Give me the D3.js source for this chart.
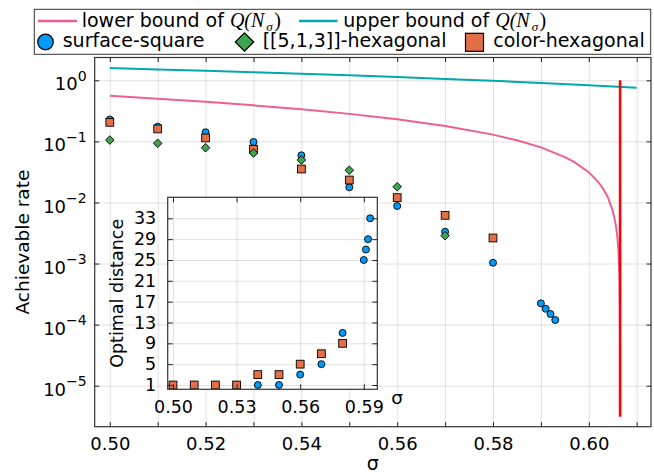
<!DOCTYPE html>
<html><head><meta charset="utf-8">
<script src="https://cdn.jsdelivr.net/npm/d3@7"></script>
<style>
body{margin:0;background:#fff}
svg{display:block}
text{font-family:"DejaVu Sans",sans-serif;fill:#000}
</style>
</head><body>
<svg id="chart" width="654" height="476"></svg>
<script>
// ---------------- data ----------------
const surfaceSigma = [0.50,0.51,0.52,0.53,0.54,0.55,0.56,0.57,0.58,0.590,0.591,0.592,0.593];
const surfaceRate  = [0.228,0.174,0.141,0.0977,0.0592,0.0177,0.00875,0.00332,0.00103,2.23e-4,1.82e-4,1.49e-4,1.19e-4];
const hexSigma = [0.50,0.51,0.52,0.53,0.54,0.55,0.56,0.57];
const hexRate  = [0.105,0.093,0.0788,0.0645,0.0496,0.0337,0.0181,0.00286];
const colorSigma = [0.50,0.51,0.52,0.53,0.54,0.55,0.56,0.57,0.58];
const colorRate  = [0.205,0.160,0.114,0.0742,0.0353,0.0233,0.0120,0.00616,0.00262];

const lowerSigma = [0.50,0.51,0.52,0.53,0.54,0.55,0.56,0.57,0.58,0.585,0.59,0.595,0.597,0.60,0.602,0.603,0.604,0.605,0.6055,0.6058,0.606,0.6062,0.6064,0.6065,0.60651,0.60652,0.606525,0.606529,0.60653];
const lowerRate  = [0.557,0.500,0.444,0.389,0.335,0.282,0.230,0.179,0.129,0.104,0.0797,0.0554,0.0457,0.0312,0.0216,0.0168,0.0121,0.0073,0.0049,0.0035,0.0025,0.00157,0.00062,0.000146,0.0000985,0.000051,0.000027,0.0000081,0.0000033];
const upperSigma = [0.50,0.51,0.52,0.53,0.54,0.55,0.56,0.57,0.58,0.59,0.60,0.61];
const upperRate  = [1.585,1.508,1.432,1.356,1.281,1.205,1.130,1.055,0.980,0.905,0.830,0.755];
const thresholdSigma = [0.60653,0.60653];
const thresholdRate  = [1.0,3.1e-6];

const xTickValues = [0.50,0.51,0.52,0.53,0.54,0.55,0.56,0.57,0.58,0.59,0.60,0.61];
const xTickLabels = ["0.50","0.52","0.54","0.56","0.58","0.60"];
const yTickValues = [1,1e-1,1e-2,1e-3,1e-4,1e-5];
const yTickExponents = ["0","\u22121","\u22122","\u22123","\u22124","\u22125"];

// inset data
const insetSurfaceSigma = [0.50,0.51,0.52,0.53,0.54,0.55,0.56,0.57,0.58,0.590,0.591,0.592,0.593];
const insetSurfaceDist  = [1,1,1,1,1,1,3,5,11,25,27,29,33];
const insetColorSigma = [0.50,0.51,0.52,0.53,0.54,0.55,0.56,0.57,0.58];
const insetColorDist  = [1,1,1,1,3,3,5,7,9];
const insetXTicks = [0.50,0.53,0.56,0.59];
const insetYTicks = [1,5,9,13,17,21,25,29,33];

// ---------------- style ----------------
const C = {blue:"#009AFA", orange:"#E36F47", green:"#3EA44E", teal:"#00A9AD", pink:"#ED5E93", red:"#FF0000"};

const svg = d3.select("#chart");
const P = {l:94.7, r:651, t:57.5, b:426.7};

const x = d3.scaleLinear().domain([0.496848, 0.612985]).range([P.l, P.r]);
const y = d3.scaleLog().domain([2.132e-6, 2.362]).range([P.b, P.t]);

svg.append("defs").append("clipPath").attr("id","clipMain")
  .append("rect").attr("x",P.l).attr("y",P.t).attr("width",P.r-P.l).attr("height",P.b-P.t);

// grid
const gridStyle = g => { g.select(".domain").remove(); g.selectAll("line").attr("stroke","#000").attr("stroke-opacity",0.12).attr("stroke-width",1); g.selectAll("text").remove(); };
svg.append("g").attr("transform",`translate(0,${P.b})`)
  .call(d3.axisBottom(x).tickValues(xTickValues).tickSize(-(P.b-P.t)).tickFormat(()=>"")).call(gridStyle);
svg.append("g").attr("transform",`translate(${P.l},0)`)
  .call(d3.axisLeft(y).tickValues(yTickValues).tickSize(-(P.r-P.l)).tickFormat(()=>"")).call(gridStyle);

// lines
const plot = svg.append("g").attr("clip-path","url(#clipMain)");
const line = d3.line().x(d=>x(d[0])).y(d=>y(d[1]));
plot.append("path").datum(d3.zip(lowerSigma,lowerRate)).attr("d",line)
  .attr("fill","none").attr("stroke",C.pink).attr("stroke-width",2);
plot.append("path").datum(d3.zip(upperSigma,upperRate)).attr("d",line)
  .attr("fill","none").attr("stroke",C.teal).attr("stroke-width",2);
plot.append("path").datum(d3.zip(thresholdSigma,thresholdRate)).attr("d",line)
  .attr("fill","none").attr("stroke",C.red).attr("stroke-width",2.6);

// markers
function circles(g, xs, ys, sx, sy, r){
  g.selectAll(null).data(d3.zip(xs,ys)).enter().append("circle")
    .attr("cx",d=>sx(d[0])).attr("cy",d=>sy(d[1])).attr("r",r)
    .attr("fill",C.blue).attr("stroke","#000").attr("stroke-width",0.9);
}
function squares(g, xs, ys, sx, sy, s){
  g.selectAll(null).data(d3.zip(xs,ys)).enter().append("rect")
    .attr("x",d=>sx(d[0])-s/2).attr("y",d=>sy(d[1])-s/2).attr("width",s).attr("height",s)
    .attr("fill",C.orange).attr("stroke","#000").attr("stroke-width",0.9);
}
function diamonds(g, xs, ys, sx, sy, h){
  g.selectAll(null).data(d3.zip(xs,ys)).enter().append("path")
    .attr("d",d=>{const cx=sx(d[0]),cy=sy(d[1]);return `M${cx},${cy-h}L${cx+h},${cy}L${cx},${cy+h}L${cx-h},${cy}Z`;})
    .attr("fill",C.green).attr("stroke","#000").attr("stroke-width",0.9);
}
circles(plot, surfaceSigma, surfaceRate, x, y, 3.5);
squares(plot, colorSigma, colorRate, x, y, 7.8);
diamonds(plot, hexSigma, hexRate, x, y, 4.3);

// frame & ticks
const tickStyle = g => { g.select(".domain").remove(); g.selectAll(".tick line").attr("stroke","#222").attr("stroke-width",1); };
svg.append("rect").attr("x",P.l).attr("y",P.t).attr("width",P.r-P.l).attr("height",P.b-P.t)
  .attr("fill","none").attr("stroke","#333").attr("stroke-width",1.2);

const xb = svg.append("g").attr("transform",`translate(0,${P.b})`)
  .call(d3.axisBottom(x).tickValues(xTickValues).tickSizeInner(-4.5).tickSizeOuter(0).tickPadding(10.5)
    .tickFormat(d => xTickLabels.includes(d.toFixed(2)) ? d.toFixed(2) : ""))
  .call(tickStyle);
xb.selectAll("text").attr("font-size",18).attr("font-family","DejaVu Sans").attr("fill","#000");
svg.append("g").attr("transform",`translate(0,${P.t})`)
  .call(d3.axisTop(x).tickValues(xTickValues).tickSizeInner(-4.5).tickSizeOuter(0).tickFormat(()=>"")).call(tickStyle);
const yl = svg.append("g").attr("transform",`translate(${P.l},0)`)
  .call(d3.axisLeft(y).tickValues(yTickValues).tickSizeInner(-4.5).tickSizeOuter(0).tickFormat(()=>"")).call(tickStyle);
yl.selectAll(".tick").each(function(d,i){
  const g = d3.select(this); g.select("text").remove();
  const t = g.append("text").attr("x",-8).attr("y",9.6).attr("text-anchor","end")
    .attr("font-size",18).attr("font-family","DejaVu Sans").attr("fill","#000");
  t.append("tspan").text("10");
  t.append("tspan").attr("dy",-9.8).attr("font-size",14).text(yTickExponents[i]);
});
svg.append("g").attr("transform",`translate(${P.r},0)`)
  .call(d3.axisRight(y).tickValues(yTickValues).tickSizeInner(-4.5).tickSizeOuter(0).tickFormat(()=>"")).call(tickStyle);

// axis labels
svg.append("text").attr("x",(P.l+P.r)/2).attr("y",469.5).attr("text-anchor","middle").attr("font-size",19).text("σ");
svg.append("text").attr("transform",`translate(28.5,${(P.t+P.b)/2}) rotate(-90)`).attr("text-anchor","middle")
  .attr("font-size",18.5).text("Achievable rate");

// ---------------- inset ----------------
const I = {l:167.7, r:377.3, t:197.3, b:389.3};
const xi = d3.scaleLinear().domain([0.4975, 0.59637]).range([I.l, I.r]);
const yi = d3.scaleLinear().domain([0.1745, 37.03]).range([I.b, I.t]);
svg.append("defs").append("clipPath").attr("id","clipInset")
  .append("rect").attr("x",I.l).attr("y",I.t).attr("width",I.r-I.l).attr("height",I.b-I.t);
svg.append("rect").attr("x",I.l).attr("y",I.t).attr("width",I.r-I.l).attr("height",I.b-I.t).attr("fill","#fff");
svg.append("g").attr("transform",`translate(0,${I.b})`)
  .call(d3.axisBottom(xi).tickValues(insetXTicks).tickSize(-(I.b-I.t)).tickFormat(()=>"")).call(gridStyle);
svg.append("g").attr("transform",`translate(${I.l},0)`)
  .call(d3.axisLeft(yi).tickValues(insetYTicks).tickSize(-(I.r-I.l)).tickFormat(()=>"")).call(gridStyle);
const ip = svg.append("g").attr("clip-path","url(#clipInset)");
circles(ip, insetSurfaceSigma, insetSurfaceDist, xi, yi, 3.5);
squares(ip, insetColorSigma, insetColorDist, xi, yi, 7.8);
svg.append("rect").attr("x",I.l).attr("y",I.t).attr("width",I.r-I.l).attr("height",I.b-I.t)
  .attr("fill","none").attr("stroke","#333").attr("stroke-width",1.2);
const ixb = svg.append("g").attr("transform",`translate(0,${I.b})`)
  .call(d3.axisBottom(xi).tickValues(insetXTicks).tickSizeInner(-5).tickSizeOuter(0).tickPadding(11).tickFormat(d3.format(".2f")))
  .call(tickStyle);
ixb.selectAll("text").attr("font-size",17.5).attr("font-family","DejaVu Sans").attr("fill","#000");
svg.append("g").attr("transform",`translate(0,${I.t})`)
  .call(d3.axisTop(xi).tickValues(insetXTicks).tickSizeInner(-5).tickSizeOuter(0).tickFormat(()=>"")).call(tickStyle);
const iyl = svg.append("g").attr("transform",`translate(${I.l},0)`)
  .call(d3.axisLeft(yi).tickValues(insetYTicks).tickSizeInner(-5).tickSizeOuter(0).tickPadding(11.5).tickFormat(d3.format("d")))
  .call(tickStyle);
iyl.selectAll("text").attr("font-size",17.5).attr("font-family","DejaVu Sans").attr("fill","#000");
svg.append("g").attr("transform",`translate(${I.r},0)`)
  .call(d3.axisRight(yi).tickValues(insetYTicks).tickSizeInner(-5).tickSizeOuter(0).tickFormat(()=>"")).call(tickStyle);
svg.append("text").attr("x",397).attr("y",403.5).attr("text-anchor","middle").attr("font-size",18.5).text("σ");
svg.append("text").attr("transform",`translate(122.5,${(I.t+I.b)/2}) rotate(-90)`).attr("text-anchor","middle")
  .attr("font-size",17.5).text("Optimal distance");

// ---------------- legend ----------------
const L = svg.append("g");
L.append("rect").attr("x",34.3).attr("y",9.3).attr("width",616.4).attr("height",45)
  .attr("fill","#fff").attr("stroke","#333").attr("stroke-width",1);
function mathQ(t){
  t.append("tspan").attr("font-family","Liberation Serif").attr("font-size",20).attr("font-style","italic").text("Q(N");
  t.append("tspan").attr("font-family","Liberation Serif").attr("font-style","italic").attr("font-size",13).attr("dy",4).attr("dx",2).text("σ");
  t.append("tspan").attr("font-family","Liberation Serif").attr("font-size",20).attr("dy",-4).attr("dx",1.5).text(")");
}
L.append("line").attr("x1",38).attr("x2",77).attr("y1",21).attr("y2",21).attr("stroke",C.pink).attr("stroke-width",2.7);
const t1 = L.append("text").attr("x",81.7).attr("y",26.7).attr("font-size",19);
t1.append("tspan").text("lower bound of ");
mathQ(t1);
L.append("line").attr("x1",299).attr("x2",337.5).attr("y1",21).attr("y2",21).attr("stroke",C.teal).attr("stroke-width",2.7);
const t2 = L.append("text").attr("x",343.3).attr("y",26.7).attr("font-size",19);
t2.append("tspan").text("upper bound of ");
mathQ(t2);

L.append("circle").attr("cx",45.5).attr("cy",42).attr("r",7.8).attr("fill",C.blue).attr("stroke","#000").attr("stroke-width",1.2);
L.append("text").attr("x",62.7).attr("y",47.3).attr("font-size",19).text("surface-square");
L.append("path").attr("d","M244.5,32.8L253.7,42L244.5,51.2L235.3,42Z").attr("fill",C.green).attr("stroke","#000").attr("stroke-width",1.2);
L.append("text").attr("x",262.7).attr("y",47.3).attr("font-size",19).text("[[5,1,3]]-hexagonal");
L.append("rect").attr("x",465.5).attr("y",33.3).attr("width",18).attr("height",18).attr("fill",C.orange).attr("stroke","#000").attr("stroke-width",1.2);
L.append("text").attr("x",493.3).attr("y",47.3).attr("font-size",19).text("color-hexagonal");
</script>
</body></html>
